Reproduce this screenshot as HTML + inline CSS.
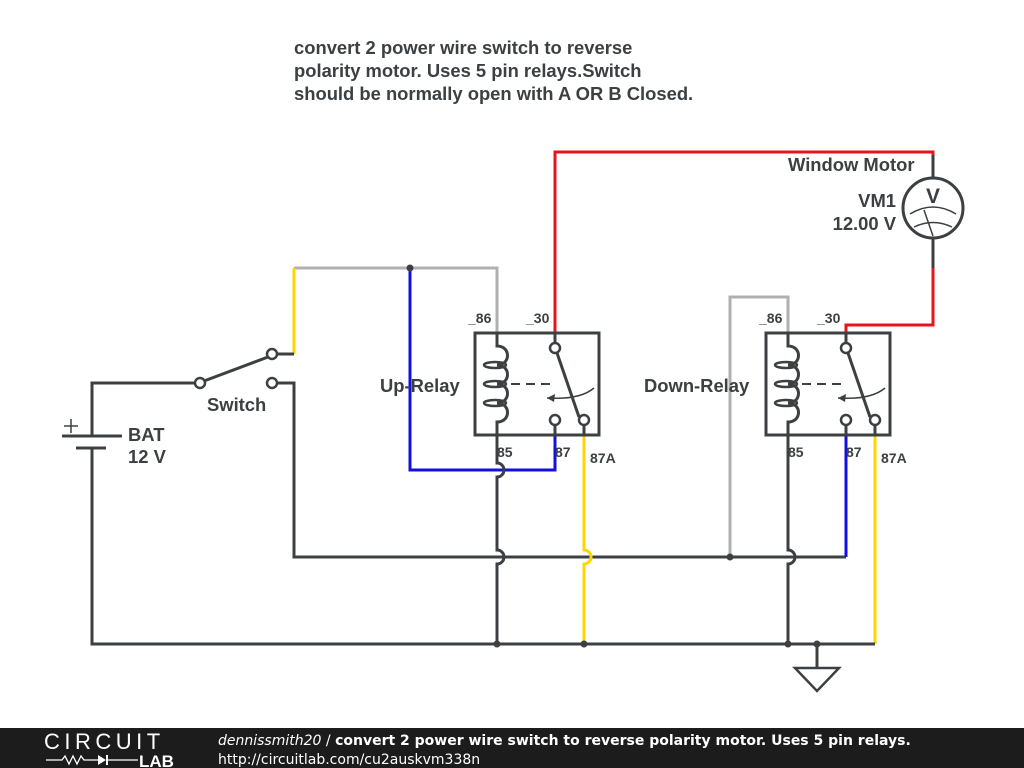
<!DOCTYPE html>
<html><head><meta charset="utf-8"><style>
html,body{margin:0;padding:0;background:#fff;width:1024px;height:768px;overflow:hidden}
svg{display:block}
text{font-family:"Liberation Sans",sans-serif;font-weight:bold;fill:#3c4043}
</style></head><body>
<svg width="1024" height="768" viewBox="0 0 1024 768" xmlns="http://www.w3.org/2000/svg">
<defs>
<g id="relay">
  <rect x="0" y="0" width="124" height="102" fill="none" stroke="#3c4043" stroke-width="3"/>
  <path d="M22,0 V13 C36,13 36,32 22,32 C36,32 36,51 22,51 C36,51 36,70 22,70 C36,70 36,89 22,89 V102" fill="none" stroke="#3c4043" stroke-width="3"/>
  <ellipse cx="20" cy="32" rx="11" ry="3" fill="none" stroke="#3c4043" stroke-width="2.5"/>
  <ellipse cx="20" cy="51" rx="11" ry="3" fill="none" stroke="#3c4043" stroke-width="2.5"/>
  <ellipse cx="20" cy="70" rx="11" ry="3" fill="none" stroke="#3c4043" stroke-width="2.5"/>
  <line x1="36" y1="51" x2="78" y2="51" stroke="#3c4043" stroke-width="2" stroke-dasharray="9,6"/>
  <line x1="80" y1="0" x2="80" y2="10" stroke="#3c4043" stroke-width="3"/>
  <line x1="80" y1="92" x2="80" y2="102" stroke="#3c4043" stroke-width="3"/>
  <line x1="109" y1="92" x2="109" y2="102" stroke="#3c4043" stroke-width="3"/>
  <line x1="82" y1="20" x2="104" y2="84" stroke="#3c4043" stroke-width="3"/>
  <circle cx="80" cy="15" r="5" fill="#fff" stroke="#3c4043" stroke-width="2.5"/>
  <circle cx="80" cy="87" r="5" fill="#fff" stroke="#3c4043" stroke-width="2.5"/>
  <circle cx="109" cy="87" r="5" fill="#fff" stroke="#3c4043" stroke-width="2.5"/>
  <path d="M119,55 Q105,67 72,65" fill="none" stroke="#3c4043" stroke-width="1.5"/>
  <path d="M72,65 L80,61 L79,69 Z" fill="#3c4043"/>
</g>
</defs>

<g font-size="18.4">
<text x="294" y="54">convert 2 power wire switch to reverse</text>
<text x="294" y="77">polarity motor. Uses 5 pin relays.Switch</text>
<text x="294" y="100">should be normally open with A OR B Closed.</text>
</g>

<g fill="none" stroke-width="3">
  <polyline points="555,333 555,152 933,152 933,155" stroke="#e8141b"/>
  <polyline points="933,155 933,178" stroke="#3c4043"/>
  <polyline points="933,238 933,268" stroke="#3c4043"/>
  <polyline points="933,268 933,325 846,325 846,333" stroke="#e8141b"/>
  <polyline points="294,268 497,268 497,333" stroke="#b0b0b0"/>
  <polyline points="294,268 294,354" stroke="#ffd600"/>
  <line x1="277" y1="354" x2="294" y2="354" stroke="#3c4043"/>
  <polyline points="410,268 410,470 555,470 555,435" stroke="#1010e0"/>
  <polyline points="92,436 92,383 195,383" stroke="#3c4043"/>
  <line x1="204" y1="381" x2="268" y2="357" stroke="#3c4043"/>
  <polyline points="277,383 294,383 294,557 846,557" stroke="#3c4043"/>
  <polyline points="846,557 846,435" stroke="#1010e0"/>
  <polyline points="788,333 788,297 730,297 730,557" stroke="#b0b0b0"/>
  <path d="M497,435 V463 A7,7 0 0 1 497,477 V550 A7,7 0 0 1 497,564 V644" stroke="#3c4043"/>
  <path d="M584,435 V550 A7,7 0 0 1 584,564 V644" stroke="#ffd600"/>
  <path d="M788,435 V550 A7,7 0 0 1 788,564 V644" stroke="#3c4043"/>
  <polyline points="875,435 875,644" stroke="#ffd600"/>
  <polyline points="92,448 92,644 875,644" stroke="#3c4043"/>
  <polyline points="817,644 817,668" stroke="#3c4043"/>
  <polygon points="795,668 839,668 817,691" stroke="#3c4043" stroke-width="2.5"/>
  <line x1="62" y1="436" x2="122" y2="436" stroke="#3c4043"/>
  <line x1="76" y1="448" x2="106" y2="448" stroke="#3c4043"/>
  <line x1="64" y1="426" x2="78" y2="426" stroke="#3c4043" stroke-width="1.5"/>
  <line x1="71" y1="419" x2="71" y2="433" stroke="#3c4043" stroke-width="1.5"/>
</g>
<circle cx="200" cy="383" r="5" fill="#fff" stroke="#3c4043" stroke-width="2.5"/>
<circle cx="272" cy="354" r="5" fill="#fff" stroke="#3c4043" stroke-width="2.5"/>
<circle cx="272" cy="383" r="5" fill="#fff" stroke="#3c4043" stroke-width="2.5"/>
<g fill="#3c4043">
  <circle cx="410" cy="268" r="3.5"/>
  <circle cx="730" cy="557" r="3.5"/>
  <circle cx="497" cy="644" r="3.5"/>
  <circle cx="584" cy="644" r="3.5"/>
  <circle cx="788" cy="644" r="3.5"/>
  <circle cx="817" cy="644" r="3.5"/>
</g>

<use href="#relay" x="475" y="333"/>
<use href="#relay" x="766" y="333"/>

<circle cx="933" cy="208" r="30" fill="#fff" stroke="#3c4043" stroke-width="3"/>
<path d="M910,214 Q933,200 956,214" fill="none" stroke="#3c4043" stroke-width="1.5"/>
<path d="M914,227 Q933,218 952,227" fill="none" stroke="#3c4043" stroke-width="1.5"/>
<line x1="924" y1="210" x2="933" y2="236" stroke="#3c4043" stroke-width="1.5"/>
<text x="933" y="203" font-size="21" text-anchor="middle">V</text>

<g font-size="18.4">
<text x="788" y="171">Window Motor</text>
<text x="896" y="207" text-anchor="end">VM1</text>
<text x="896" y="230" text-anchor="end">12.00 V</text>
<text x="207" y="411">Switch</text>
<text x="128" y="441">BAT</text>
<text x="128" y="463">12 V</text>
<text x="380" y="392">Up-Relay</text>
<text x="644" y="392">Down-Relay</text>
</g>
<g font-size="14">
  <text x="468" y="323">_86</text><text x="526" y="323">_30</text>
  <text x="497" y="457">85</text><text x="555" y="457">87</text><text x="590" y="463">87A</text>
  <text x="759" y="323">_86</text><text x="817" y="323">_30</text>
  <text x="788" y="457">85</text><text x="846" y="457">87</text><text x="881" y="463">87A</text>
</g>

<rect x="0" y="728" width="1024" height="40" fill="#1c1c1c"/>
<text x="44" y="749" font-size="22" style="font-weight:normal;fill:#fff;letter-spacing:4.5px">CIRCUIT</text>
<polyline points="46,760 62,760 65,756 69,764 73,756 77,764 81,756 84,760 98,760" fill="none" stroke="#fff" stroke-width="1.3"/>
<polygon points="98,755 98,765 106,760" fill="#fff"/>
<line x1="107" y1="755" x2="107" y2="765" stroke="#fff" stroke-width="2"/>
<line x1="106" y1="760" x2="138" y2="760" stroke="#fff" stroke-width="1.3"/>
<text x="139" y="767" font-size="17" style="fill:#fff">LAB</text>
<text x="218" y="745" font-size="14" style="fill:#fff;font-family:'DejaVu Sans',sans-serif"><tspan style="font-style:italic;font-weight:normal">dennissmith20</tspan><tspan style="font-weight:normal"> / </tspan>convert 2 power wire switch to reverse polarity motor. Uses 5 pin relays.</text>
<text x="218" y="764" font-size="14" style="fill:#fff;font-weight:normal;font-family:'DejaVu Sans',sans-serif">http://circuitlab.com/cu2auskvm338n</text>
</svg>
</body></html>
